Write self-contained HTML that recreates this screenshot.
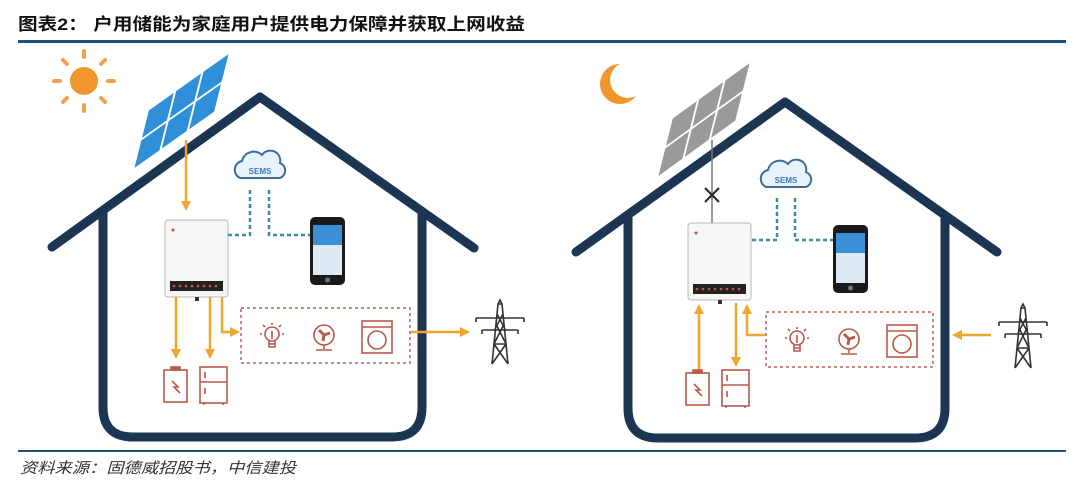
<!DOCTYPE html>
<html><head><meta charset="utf-8"><style>
html,body{margin:0;padding:0;background:#fff;width:1080px;height:493px;overflow:hidden}
svg{display:block}
</style></head><body>
<svg width="1080" height="493" viewBox="0 0 1080 493" xmlns="http://www.w3.org/2000/svg" font-family="Liberation Sans, Noto Sans CJK SC, sans-serif">
<defs>
<marker id="ah" markerWidth="4" markerHeight="4" refX="2" refY="2" orient="auto" markerUnits="strokeWidth"><path d="M0,0 L4,2 L0,4 z" fill="#f0a62c"/></marker>
<g id="cloud"><path d="M-20,10 a9,9 0 0 1 2,-17 a12,12 0 0 1 20,-6 a10,10 0 0 1 18,8 a8,8 0 0 1 0,15 z" fill="#e8f2fa" stroke="#3d6e9a" stroke-width="2"/><text x="0" y="6" font-size="8" font-weight="bold" fill="#3d78b0" text-anchor="middle">SEMS</text></g>
<g id="inv"><rect x="0" y="0" width="63" height="77" rx="3" fill="#f6f6f6" stroke="#b8b8b8"/><rect x="5" y="61" width="53" height="10" fill="#222"/><g fill="#c55"><circle cx="9" cy="66" r="1.3"/><circle cx="15" cy="66" r="1.3"/><circle cx="21" cy="66" r="1.3"/><circle cx="27" cy="66" r="1.3"/><circle cx="33" cy="66" r="1.3"/><circle cx="39" cy="66" r="1.3"/><circle cx="45" cy="66" r="1.3"/><circle cx="51" cy="66" r="1.3"/></g><circle cx="8" cy="10" r="1.5" fill="#c44"/><rect x="30" y="77" width="4" height="4" fill="#333"/></g>
<g id="phone"><rect x="0" y="0" width="35" height="68" rx="5" fill="#1a1a1a"/><rect x="3" y="8" width="29" height="50" fill="#ddeaf5"/><rect x="3" y="8" width="29" height="20" fill="#3a8fd6"/><circle cx="17.5" cy="63" r="2.5" fill="#777"/></g>
<g id="icons" fill="none" stroke="#b85a4a" stroke-width="1.6"><circle cx="0" cy="-3" r="7"/><path d="M-3,4 v6 h6 v-6 M-3,7 h6 M0,-6 v8"/><path d="M-9,-12 l2,2 M9,-12 l-2,2 M0,-14 v2 M-12,-3 h2 M12,-3 h-2"/><circle cx="52" cy="-2" r="10"/><path d="M52,8 v4 M44,13 h16" /><path d="M52,-2 l-5,-5 M52,-2 l6,-2 M52,-2 l-1,6" stroke-width="3"/><rect x="90" y="-16" width="30" height="32"/><circle cx="105" cy="3" r="9"/><path d="M90,-10 h30"/></g>
<g id="batt" fill="none" stroke="#b85a4a" stroke-width="1.6"><rect x="0" y="3" width="23" height="32"/><rect x="7" y="0" width="9" height="3" fill="#b85a4a"/><path d="M8,14 l6,6 l-4,0 l6,6"/><rect x="36" y="0" width="27" height="36"/><path d="M36,15 h27 M41,5 v6 M41,21 v6 M40,36 v2 M59,36 v2"/></g>
<g id="tower" fill="none" stroke="#333" stroke-width="1.6"><path d="M-8,60 L-2,0 L2,0 L8,60 M-2,0 L0,-4 L2,0 M-4,20 L6,40 M4,20 L-6,40 M-3,10 L5,25 M3,10 L-5,25 M-6,40 L8,60 M6,40 L-8,60"/><path d="M-24,14 h48 M-18,26 h36 M-24,14 v4 M24,14 v4 M-18,26 v4 M18,26 v4 M-6,40 h12"/></g>
<g id="cells" stroke="#fff" stroke-width="2.5"><rect x="0" y="0" width="30" height="30"/><rect x="30" y="0" width="30" height="30"/><rect x="60" y="0" width="30" height="30"/><rect x="0" y="30" width="30" height="30"/><rect x="30" y="30" width="30" height="30"/><rect x="60" y="30" width="30" height="30"/></g>
</defs>

<text x="18" y="30" font-size="17" font-weight="bold" fill="#111" textLength="507" lengthAdjust="spacingAndGlyphs">图表2：  户用储能为家庭用户提供电力保障并获取上网收益</text>
<rect x="18" y="40" width="1048" height="3" fill="#1f4e79"/>
<rect x="18" y="450" width="1048" height="2" fill="#1f4e79"/>
<text x="20" y="473" font-size="15" font-style="italic" fill="#333" textLength="276" lengthAdjust="spacingAndGlyphs">资料来源：固德威招股书，中信建投</text>

<!-- LEFT HOUSE -->
<g stroke="#1c3553" stroke-width="9" fill="none" stroke-linecap="round" stroke-linejoin="round">
<path d="M52,247 L260,97 L474,248"/>
<path d="M103,213 V407 Q103,437 133,437 H392 Q422,437 422,407 V213"/>
</g>
<g fill="#f0962c"><circle cx="84" cy="81" r="14"/><g stroke="#f0a24a" stroke-width="4" stroke-linecap="round"><path d="M84,51 v6 M84,105 v6 M54,81 h6 M108,81 h6 M63,60 l4,4 M101,98 l4,4 M105,60 l-4,4 M63,102 l4,-4"/></g></g>
<g transform="matrix(0.911,-0.644,-0.25,1,148,110)" fill="#2f8fd8"><use href="#cells"/></g>
<line x1="186" y1="140" x2="186" y2="206" stroke="#f0a62c" stroke-width="2.5" marker-end="url(#ah)"/>
<use href="#inv" x="165" y="220"/>
<use href="#cloud" x="260" y="168"/>
<g stroke="#3d8aa6" stroke-width="2.5" stroke-dasharray="4,3" fill="none"><path d="M250,190 V235 H228"/><path d="M269,190 V235 H310"/></g>
<use href="#phone" x="310" y="217"/>
<g stroke="#f0a62c" stroke-width="2.5" fill="none"><line x1="176" y1="297" x2="176" y2="354" marker-end="url(#ah)"/><line x1="210" y1="297" x2="210" y2="354" marker-end="url(#ah)"/><path d="M222,297 V332 H235" marker-end="url(#ah)"/><line x1="410" y1="332" x2="465" y2="332" marker-end="url(#ah)"/></g>
<rect x="241" y="308" width="169" height="55" fill="none" stroke="#c88a80" stroke-width="2" stroke-dasharray="3,3"/>
<use href="#icons" x="272" y="337"/>
<use href="#batt" x="164" y="367"/>
<use href="#tower" x="500" y="304"/>

<!-- RIGHT HOUSE -->
<g stroke="#1c3553" stroke-width="9" fill="none" stroke-linecap="round" stroke-linejoin="round">
<path d="M576,252 L785,102 L997,252"/>
<path d="M628,218 V408 Q628,438 658,438 H915 Q945,438 945,408 V218"/>
</g>
<path d="M620,64 a20,20 0 1 0 16,32 a16,16 0 1 1 -16,-32 z" fill="#f0962c"/>
<g transform="matrix(0.878,-0.633,-0.25,1,672,118)" fill="#9a9a9a"><use href="#cells"/></g>
<line x1="712" y1="140" x2="712" y2="223" stroke="#777" stroke-width="1.5"/>
<path d="M705,188 l14,14 M719,188 l-14,14" stroke="#222" stroke-width="2"/>
<use href="#inv" x="688" y="223"/>
<use href="#cloud" x="786" y="177"/>
<g stroke="#3d8aa6" stroke-width="2.5" stroke-dasharray="4,3" fill="none"><path d="M777,198 V240 H751"/><path d="M795,198 V240 H835"/></g>
<use href="#phone" x="833" y="225"/>
<g stroke="#f0a62c" stroke-width="2.5" fill="none"><line x1="699" y1="370" x2="699" y2="309" marker-end="url(#ah)"/><line x1="736" y1="303" x2="736" y2="362" marker-end="url(#ah)"/><path d="M766,335 H747 V309" marker-end="url(#ah)"/><line x1="991" y1="335" x2="957" y2="335" marker-end="url(#ah)"/></g>
<rect x="766" y="312" width="167" height="55" fill="none" stroke="#c88a80" stroke-width="2" stroke-dasharray="3,3"/>
<use href="#icons" x="797" y="341"/>
<use href="#batt" x="686" y="370"/>
<use href="#tower" x="1023" y="308"/>
</svg>
</body></html>
